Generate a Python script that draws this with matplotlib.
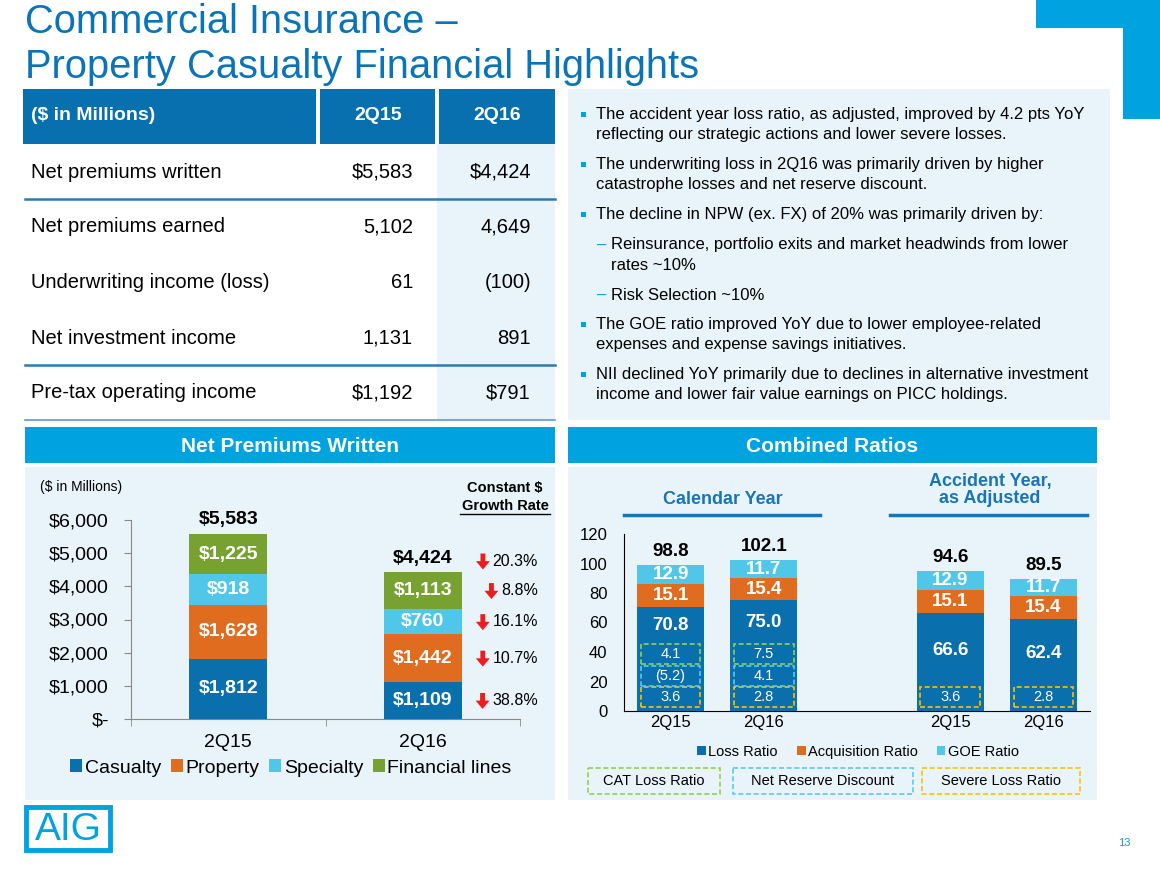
import matplotlib.pyplot as plt
from matplotlib.patches import Rectangle
from matplotlib.text import OffsetFrom
import numpy as np

plt.rcParams['font.family'] = ['Liberation Sans', 'DejaVu Sans']

W, H = 1160, 873

# ---------------- data ----------------
title_lines = ['Commercial Insurance \u2013', 'Property Casualty Financial Highlights']

table_header = ['($ in Millions)', '2Q15', '2Q16']
table_rows = ['Net premiums written', 'Net premiums earned', 'Underwriting income (loss)',
              'Net investment income', 'Pre-tax operating income']
table_2q15 = ['$5,583', '5,102', '61', '1,131', '$1,192']
table_2q16 = ['$4,424', '4,649', '(100)', '891', '$791']

# (level, first line, continuation line)
bullets = [
    (0, 'The accident year loss ratio, as adjusted, improved by 4.2 pts YoY',
        'reflecting our strategic actions and lower severe losses.'),
    (0, 'The underwriting loss in 2Q16 was primarily driven by higher',
        'catastrophe losses and net reserve discount.'),
    (0, 'The decline in NPW (ex. FX) of 20% was primarily driven by:', None),
    (1, 'Reinsurance, portfolio exits and market headwinds from lower', 'rates ~10%'),
    (1, 'Risk Selection ~10%', None),
    (0, 'The GOE ratio improved YoY due to lower employee-related',
        'expenses and expense savings initiatives.'),
    (0, 'NII declined YoY primarily due to declines in alternative investment',
        'income and lower fair value earnings on PICC holdings.'),
]

npw_quarters = ['2Q15', '2Q16']
npw_segments = ['Casualty', 'Property', 'Specialty', 'Financial lines']
npw_casualty = [1812, 1109]
npw_property = [1628, 1442]
npw_specialty = [918, 760]
npw_financial = [1225, 1113]
npw_growth = ['38.8%', '10.7%', '16.1%', '8.8%']   # 2Q16 constant $ growth by segment
npw_growth_total = '20.3%'
npw_ticks = [0, 1000, 2000, 3000, 4000, 5000, 6000]
npw_ticklabels = ['$-', '$1,000', '$2,000', '$3,000', '$4,000', '$5,000', '$6,000']

cr_labels = ['2Q15', '2Q16', '2Q15', '2Q16']
cr_x = [0, 1, 3, 4]
cr_names = ['Loss Ratio', 'Acquisition Ratio', 'GOE Ratio']
cr_loss = [70.8, 75.0, 66.6, 62.4]
cr_acq = [15.1, 15.4, 15.1, 15.4]
cr_goe = [12.9, 11.7, 12.9, 11.7]
cr_severe = ['3.6', '2.8', '3.6', '2.8']
cr_nrd = ['(5.2)', '4.1', None, None]
cr_cat = ['4.1', '7.5', None, None]
cr_yticks = [0, 20, 40, 60, 80, 100, 120]

# ---------------- colours ----------------
DARK = '#0870ae'
BRIGHT = '#00a3e0'
PANEL = '#e9f4fa'
seg_colors = ['#0a6fad', '#e06c20', '#50c7e8', '#77a232']
box_colors = {'cat': '#92d050', 'nrd': '#5bc8ee', 'sev': '#ffc000'}

fig = plt.figure(figsize=(11.6, 8.73), dpi=100)
bg = fig.add_axes([0, 0, 1, 1])
bg.set_xlim(0, W)
bg.set_ylim(H, 0)
bg.axis('off')


def box(x0, y0, x1, y1, **kw):
    kw.setdefault('lw', 0)
    bg.add_patch(Rectangle((x0, y0), x1 - x0, y1 - y0, **kw))


# title + corner mark
bg.text(25, 33, title_lines[0], fontsize=28.7, color='#0b74b7', va='baseline')
bg.text(25, 78, title_lines[1], fontsize=28.7, color='#0b74b7', va='baseline')
box(1036, 0, 1160, 28, fc=BRIGHT)
box(1123, 0, 1160, 119, fc=BRIGHT)

# ---------------- table ----------------
box(437, 144, 555, 420, fc=PANEL)
box(23, 89, 316, 144, fc=DARK)
box(320, 89, 435, 144, fc=DARK)
box(439, 89, 555, 144, fc=DARK)
bg.text(31, 116, table_header[0], color='white', fontsize=14, fontweight='bold', va='center')
bg.text(378, 116, table_header[1], color='white', fontsize=14, fontweight='bold', va='center', ha='center')
bg.text(497, 116, table_header[2], color='white', fontsize=14, fontweight='bold', va='center', ha='center')
row_y = [172, 227, 283, 338, 393]
for y, lab, v1, v2 in zip(row_y, table_rows, table_2q15, table_2q16):
    bg.text(31, y, lab, fontsize=14.5, va='center')
    bg.text(413, y, v1, fontsize=14.5, va='center', ha='right')
    bg.text(531, y, v2, fontsize=14.5, va='center', ha='right')
bg.plot([25, 555], [199, 199], color='#2a7ab8', lw=1.8)
bg.plot([25, 555], [365, 365], color='#2a7ab8', lw=1.8)
bg.plot([25, 555], [420, 420], color='#5b9bd5', lw=1.2)

# ---------------- bullets ----------------
box(568, 89, 1110, 420, fc=PANEL)
y = 115
for lvl, l1, l2 in bullets:
    if lvl == 0:
        box(581, y - 3, 586, y + 2, fc=BRIGHT)
        tx = 596
    else:
        bg.text(597, y, '\u2013', color=BRIGHT, fontsize=12, va='center', ha='left')
        tx = 611
    bg.text(tx, y, l1, fontsize=12, va='center')
    if l2:
        y += 20
        bg.text(tx, y, l2, fontsize=12, va='center')
    y += 30

# ---------------- panels ----------------
for x0, x1, name in [(25, 555, 'Net Premiums Written'), (568, 1097, 'Combined Ratios')]:
    box(x0, 427, x1, 463, fc=BRIGHT)
    bg.text((x0 + x1) / 2, 446, name, color='white', fontsize=15, fontweight='bold',
            ha='center', va='center')
    box(x0, 467, x1, 800, fc=PANEL)

# ---------------- NPW chart ----------------
ax1 = fig.add_axes([131 / W, 1 - 719 / H, (520 - 131) / W, (719 - 520) / H])
ax1.set_facecolor('none')
x = np.arange(len(npw_quarters))
series = [npw_casualty, npw_property, npw_specialty, npw_financial]
bottom = np.zeros(len(x))
handles = []
seg_mid_2q16 = []
for vals, col, name in zip(series, seg_colors, npw_segments):
    vals = np.array(vals)
    b = ax1.bar(x, vals, 0.4, bottom=bottom, color=col, label=name, zorder=3)
    handles.append(b)
    for xi, v, bt in zip(x, vals, bottom):
        ax1.text(xi, bt + v / 2, f'${v:,}', color='white', fontsize=14, fontweight='bold',
                 ha='center', va='center', zorder=4)
    seg_mid_2q16.append(bottom[1] + vals[1] / 2)
    bottom = bottom + vals
for xi, t in zip(x, bottom):
    ax1.annotate(f'${int(t):,}', (xi, t), xytext=(0, 10), textcoords='offset points',
                 ha='center', va='center', fontsize=14, fontweight='bold')


def growth(yv, pct, offset=0):
    t = ax1.annotate(pct, (1.0, yv), xytext=(83, offset), textcoords='offset points',
                     ha='right', va='center', fontsize=11.5, annotation_clip=False)
    ref = OffsetFrom(t, (0, 0.5))
    ax1.annotate('', xy=(-7, -6), xycoords=ref, xytext=(-7, 5.5), textcoords=ref,
                 arrowprops=dict(arrowstyle='simple,head_length=0.6,head_width=1.0,tail_width=0.35',
                                 color='#ee1c1c', shrinkA=0, shrinkB=0, lw=0),
                 annotation_clip=False)


growth(bottom[1], npw_growth_total, offset=8)
for yv, pct in zip(seg_mid_2q16, npw_growth):
    growth(yv, pct)

ax1.set_xlim(-0.5, 1.5)
ax1.set_ylim(0, 6000)
ax1.set_yticks(npw_ticks, npw_ticklabels, fontsize=14)
ax1.set_xticks(x, npw_quarters, fontsize=14)
ax1.set_xticks([-0.5, 0.5, 1.5], minor=True)
ax1.tick_params(axis='x', which='major', length=0, pad=11)
ax1.tick_params(axis='x', which='minor', length=5, color='#888888')
ax1.tick_params(axis='y', length=5, color='#888888', pad=11)
for s in ['top', 'right']:
    ax1.spines[s].set_visible(False)
for s in ['left', 'bottom']:
    ax1.spines[s].set_color('#888888')
ax1.legend(handles=handles, loc='center', bbox_to_anchor=(291 / W, 1 - 768 / H),
           bbox_transform=fig.transFigure, ncol=4, frameon=False, fontsize=14,
           handlelength=0.6, handleheight=0.6, handletextpad=0.15, columnspacing=0.5,
           borderaxespad=0)

bg.text(40, 487, '($ in Millions)', fontsize=10, va='center')
bg.text(505, 488, 'Constant $', fontsize=10.5, fontweight='bold', va='center', ha='center')
bg.text(505, 506, 'Growth Rate', fontsize=10.5, fontweight='bold', va='center', ha='center')
bg.plot([460, 550], [514, 514], color='black', lw=1)

# ---------------- Combined ratio chart ----------------
ax2 = fig.add_axes([624 / W, 1 - 711 / H, (1090 - 624) / W, (711 - 534) / H])
ax2.set_facecolor('none')
cx = np.array(cr_x, dtype=float)
bottom = np.zeros(len(cx))
handles2 = []
bw = 0.72
for vals, col, name in zip([cr_loss, cr_acq, cr_goe], seg_colors[:3], cr_names):
    vals = np.array(vals)
    b = ax2.bar(cx, vals, bw, bottom=bottom, color=col, label=name, zorder=3)
    handles2.append(b)
    bottom = bottom + vals
    if name == 'Loss Ratio':
        continue
    for xi, v, bt in zip(cx, vals, bottom - vals):
        ax2.text(xi, bt + v / 2, f'{v:.1f}', color='white', fontsize=13.5, fontweight='bold',
                 ha='center', va='center', zorder=4)
for xi, t in zip(cx, bottom):
    ax2.annotate(f'{t:.1f}', (xi, t), xytext=(0, 10), textcoords='offset points',
                 ha='center', va='center', fontsize=13.5, fontweight='bold')

# dashed detail boxes inside the loss ratio bar
row_h, row_step, row_base = 13.4, 14.6, 2.6
for i, xi in enumerate(cx):
    rows = [(cr_severe[i], box_colors['sev']), (cr_nrd[i], box_colors['nrd']),
            (cr_cat[i], box_colors['cat'])]
    top = 0
    for k, (val, col) in enumerate(rows):
        if val is None:
            continue
        y0 = row_base + k * row_step
        ax2.add_patch(Rectangle((xi - 0.32, y0), 0.64, row_h, fill=False, ec=col, lw=1.2,
                                ls=(0, (3, 1.6)), zorder=5))
        ax2.text(xi, y0 + row_h / 2, val, color='white', fontsize=10.5, ha='center',
                 va='center', zorder=5)
        top = y0 + row_h
    ax2.text(xi, (top + cr_loss[i]) / 2, f'{cr_loss[i]:.1f}', color='white', fontsize=13.5,
             fontweight='bold', ha='center', va='center', zorder=4)

ax2.set_xlim(-0.5, 4.5)
ax2.set_ylim(0, 120)
ax2.set_yticks(cr_yticks, [str(v) for v in cr_yticks], fontsize=12)
ax2.set_xticks(cx, cr_labels, fontsize=12)
ax2.tick_params(axis='both', length=0)
ax2.tick_params(axis='y', pad=12)
ax2.tick_params(axis='x', pad=3)
for s in ['top', 'right']:
    ax2.spines[s].set_visible(False)
for s in ['left', 'bottom']:
    ax2.spines[s].set_color('black')
ax2.legend(handles=handles2, loc='center', bbox_to_anchor=(858 / W, 1 - 752 / H),
           bbox_transform=fig.transFigure, ncol=3, frameon=False, fontsize=10.5,
           handlelength=0.6, handleheight=0.6, handletextpad=0.15, columnspacing=1.3,
           borderaxespad=0)

hdr_col = '#1a75b5'
bg.text(723, 499, 'Calendar Year', fontsize=13, fontweight='bold', color=hdr_col,
        ha='center', va='center')
bg.text(990, 490, 'Accident Year,\nas Adjusted', fontsize=13, fontweight='bold', color=hdr_col,
        ha='center', va='center', linespacing=1.05)
bg.plot([624, 820], [515, 515], color=hdr_col, lw=2.5)
bg.plot([890, 1087], [515, 515], color=hdr_col, lw=2.5)

for x0, x1, lab, col in [(588, 720, 'CAT Loss Ratio', box_colors['cat']),
                         (733, 913, 'Net Reserve Discount', box_colors['nrd']),
                         (922, 1080, 'Severe Loss Ratio', box_colors['sev'])]:
    bg.add_patch(Rectangle((x0, 768), x1 - x0, 26, fill=False, ec=col, lw=1.2,
                           ls=(0, (3, 1.6))))
    bg.text((x0 + x1) / 2, 781, lab, fontsize=10.5, ha='center', va='center')

# ---------------- logo + page ----------------
box(26, 807, 110, 850, fc='white', ec=BRIGHT, lw=3.5)
bg.text(68, 830, 'AIG', fontsize=28, color=BRIGHT, ha='center', va='center',
        family=['Liberation Sans Narrow', 'Liberation Sans'])
bg.text(1124, 843, '13', fontsize=8, color=BRIGHT, ha='center', va='center')

fig.savefig('out.png', dpi=100)
